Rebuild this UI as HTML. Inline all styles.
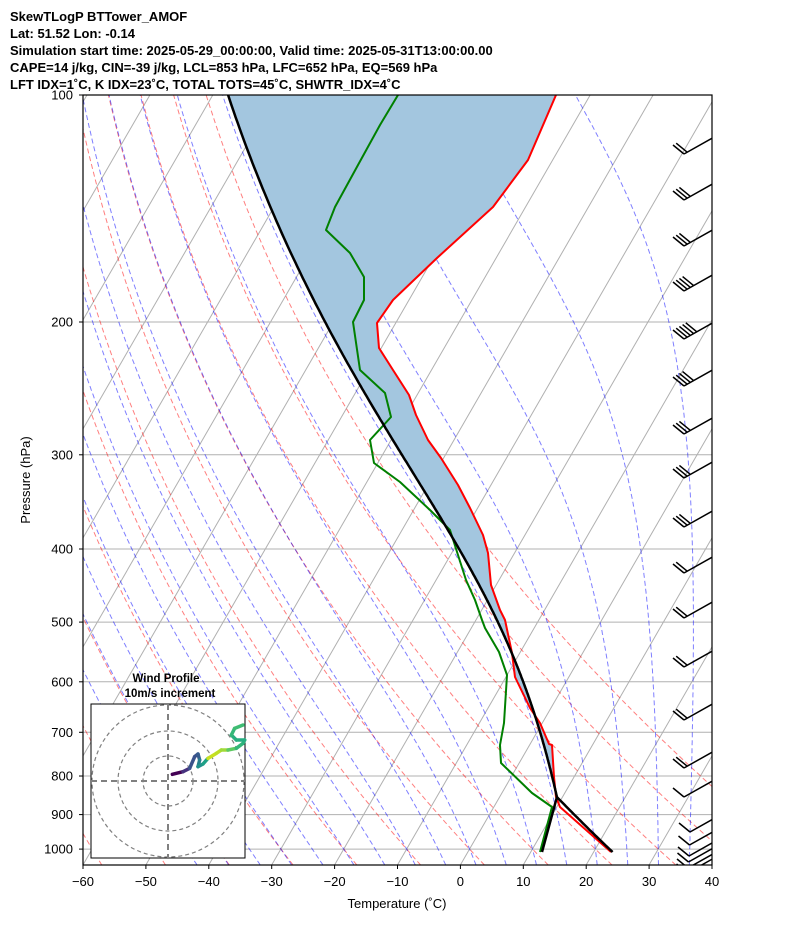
<!DOCTYPE html>
<html><head><meta charset="utf-8"><style>
html,body{margin:0;padding:0;background:#fff;width:794px;height:937px;overflow:hidden}
svg{display:block;font-family:"Liberation Sans","DejaVu Sans",sans-serif}
</style></head><body>
<svg id="s" width="794" height="937" viewBox="0 0 794 937" xmlns="http://www.w3.org/2000/svg">
<defs><clipPath id="c"><rect x="83" y="95" width="629" height="770"/></clipPath></defs>
<g font-weight="bold" font-size="13" fill="#000">
<text x="10" y="21">SkewTLogP BTTower_AMOF</text>
<text x="10" y="38">Lat: 51.52   Lon: -0.14</text>
<text x="10" y="55">Simulation start time: 2025-05-29_00:00:00, Valid time: 2025-05-31T13:00:00.00</text>
<text x="10" y="72">CAPE=14 j/kg, CIN=-39 j/kg, LCL=853 hPa, LFC=652 hPa, EQ=569 hPa</text>
<text x="10" y="89">LFT IDX=1˚C, K IDX=23˚C, TOTAL TOTS=45˚C, SHWTR_IDX=4˚C</text>
</g>
<g id="plot" clip-path="url(#c)"></g>
<g id="over"></g>
<rect x="83" y="95" width="629" height="770" fill="none" stroke="#000" stroke-width="1.2"/>
<g id="ax" font-size="13" fill="#000"></g>
<text x="30" y="480" font-size="13" text-anchor="middle" transform="rotate(-90 30 480)">Pressure (hPa)</text>
<text x="397" y="908" font-size="13" text-anchor="middle">Temperature (˚C)</text>
</svg>
<script>
var NS="http://www.w3.org/2000/svg";
var SK=0.577;
function Y(p){return 95+327.5*Math.log(p/100);}
function X(T,p){return 83+(T+60)*6.29+(865-Y(p))*SK;}
function el(par,tag,at){var e=document.createElementNS(NS,tag);for(var k in at)e.setAttribute(k,at[k]);par.appendChild(e);return e;}
var plot=document.getElementById('plot'),ax=document.getElementById('ax'),over=document.getElementById('over');
function pth(pts){return pts.map(function(q,i){return (i?'L':'M')+q[0].toFixed(1)+' '+q[1].toFixed(1);}).join(' ');}
for(var T=-160;T<=60;T+=10){el(plot,'line',{x1:X(T,1050),y1:865,x2:X(T,100),y2:95,stroke:'#b0b0b0','stroke-width':1});}
[100,200,300,400,500,600,700,800,900,1000].forEach(function(p){
 el(plot,'line',{x1:83,x2:712,y1:Y(p),y2:Y(p),stroke:'#b0b0b0','stroke-width':1});
 var t=el(ax,'text',{x:73,y:Y(p)+4.5,'text-anchor':'end'});t.textContent=p;
 el(ax,'line',{x1:79,x2:83,y1:Y(p),y2:Y(p),stroke:'#000'});
});
for(var T=-60;T<=40;T+=10){var x=83+(T+60)*6.29;el(ax,'line',{x1:x,x2:x,y1:865,y2:869,stroke:'#000'});
 var t=el(ax,'text',{x:x,y:886,'text-anchor':'middle'});t.textContent=(T<0?'\u2212'+(-T):T);}
for(var th=-70;th<=50;th+=10){var pts=[];for(var p=1050;p>=100;p-=10){var Tk=(th+273.15)*Math.pow(p/1000,0.286);pts.push([X(Tk-273.15,p),Y(p)]);}
 el(plot,'path',{d:pth(pts),fill:'none',stroke:'#ff0000','stroke-opacity':0.5,'stroke-width':1,'stroke-dasharray':'5,3'});}
function dTdp(p,T){var es=6.112*Math.exp(17.67*(T-273.15)/(T-29.65));var rs=0.622*es/(p-es);
 return (287*T+2.501e6*rs)/(p*(1004+2.501e6*2.501e6*rs*0.622/(287*T*T)));}
function moist(T0,p0,p1){var pts=[],T=T0,p=p0,h=(p1<p0?-2:2);pts.push([p,T]);
 while((h<0&&p>p1)||(h>0&&p<p1)){var k1=dTdp(p,T),k2=dTdp(p+h,T+h*k1);T+=h*(k1+k2)/2;p+=h;pts.push([p,T]);}return pts;}
for(var t0=-45;t0<=40;t0+=5){var a=moist(t0+273.15,1000,100),b=moist(t0+273.15,1000,1050);
 var pts=b.reverse().concat(a).map(function(q){return [X(q[1]-273.15,q[0]),Y(q[0])];});
 el(plot,'path',{d:pth(pts),fill:'none',stroke:'#0000ff','stroke-opacity':0.5,'stroke-width':1,'stroke-dasharray':'5,3'});}
var red=[[556,95],[528,160],[493,207],[437,258],[393,300],[377,323],[379,348],[393,370],[409,395],[416,415],[428,440],[441,458],[458,485],[470,508],[483,535],[488,553],[491,585],[500,610],[505,620],[512,653],[515,677],[530,708],[540,723],[549,744],[552,745],[554,777],[556,797],[560,807],[611,852]];
var green=[[398,95],[380,125],[358,165],[335,207],[326,230],[350,253],[364,277],[364,300],[353,322],[360,370],[385,393],[391,417],[370,440],[374,463],[400,482],[430,510],[450,530],[458,555],[466,580],[475,600],[482,620],[485,628],[499,652],[507,675],[504,723],[500,745],[501,763],[532,793],[552,807],[540,852]];
var p0=1009,T0=23.0+273.15,plcl=853,Tl=T0*Math.pow(plcl/p0,0.286);
var par=[];for(var p=p0;p>plcl;p-=4){par.push([X(T0*Math.pow(p/p0,0.286)-273.15,p),Y(p)]);}
moist(Tl,plcl,95).forEach(function(q){par.push([X(q[1]-273.15,q[0]),Y(q[0])]);});
var li=par.findIndex(function(q){return q[1]<=Y(plcl);});
var fp=par.slice(li).concat(red.slice(0,27));
el(plot,'path',{d:pth(fp)+'Z',fill:'#a3c6df',stroke:'none'});
el(plot,'path',{d:pth(red),fill:'none',stroke:'#ff0000','stroke-width':2,'stroke-linejoin':'round'});
el(plot,'path',{d:pth(green),fill:'none',stroke:'#008000','stroke-width':2,'stroke-linejoin':'round'});
el(plot,'path',{d:pth(par),fill:'none',stroke:'#000','stroke-width':2.5});
el(plot,'path',{d:'M'+X(Tl-273.15,plcl)+' '+Y(plcl)+' L542 852',fill:'none',stroke:'#000','stroke-width':2.5});
function barb(bx,by,n,len){el(plot,'line',{x1:bx,y1:by,x2:bx+len*0.87,y2:by-len*0.49,stroke:'#000','stroke-width':1.5});
 for(var i=0;i<n;i++){var sx=bx+i*3.2,sy=by-i*1.8;el(plot,'line',{x1:sx,y1:sy,x2:sx-11,y2:sy-9,stroke:'#000','stroke-width':1.5});}}
[[154,2],[200,3],[246,3],[291,4],[339,5],[386,4],[434,3],[478,3],[527,3],[573,2],[618,2],[667,2],[720,2],[768,2],[797,1]].forEach(function(b){barb(684,b[0],b[1],36);});
[[832,1],[845,1],[856,1],[862,1],[868,1],[873,1]].forEach(function(b,i){barb(690-i*0.5,b[0],1,40+i*6);});
var g=el(over,'g',{});
el(g,'rect',{x:91,y:704,width:154,height:154,fill:'#fff',stroke:'#000','stroke-width':1});
var h=el(g,'g',{});
[25,50,76].forEach(function(r){el(h,'circle',{cx:168,cy:781,r:r,fill:'none',stroke:'#808080','stroke-width':1.2,'stroke-dasharray':'4,3'});});
el(h,'line',{x1:168,x2:168,y1:704,y2:858,stroke:'#808080','stroke-width':2,'stroke-dasharray':'6,4'});
el(h,'line',{x1:91,x2:245,y1:781,y2:781,stroke:'#808080','stroke-width':2,'stroke-dasharray':'6,4'});
var hz=[[268,343],[300,335],[320,325],[335,290],[345,282],[350,300],[345,320],[360,312],[375,295],[400,280],[415,270],[435,270],[460,265],[480,250],[485,240],[460,240],[445,225],[455,205],[480,195]].map(function(q){return [q[0]/3+83,q[1]/3+660];});
var cols=['#440154','#46327e','#3b528b','#3b528b','#365c8d','#277f8e','#21918c','#1fa187','#c8e020','#bddf26','#a0da39','#5ec962','#35b779','#2db27d','#26ad81','#29af7f','#35b779','#3fbc73'];
for(var i=0;i<hz.length-1;i++)el(h,'line',{x1:hz[i][0],y1:hz[i][1],x2:hz[i+1][0],y2:hz[i+1][1],stroke:cols[i],'stroke-width':3.5,'stroke-linecap':'round'});
var t1=el(over,'text',{x:166,y:682,'font-size':11.5,'font-weight':'bold','text-anchor':'middle'});t1.textContent='Wind Profile';
var t2=el(over,'text',{x:170,y:697,'font-size':11.5,'font-weight':'bold','text-anchor':'middle'});t2.textContent='10m/s increment';
</script>
</body></html>
